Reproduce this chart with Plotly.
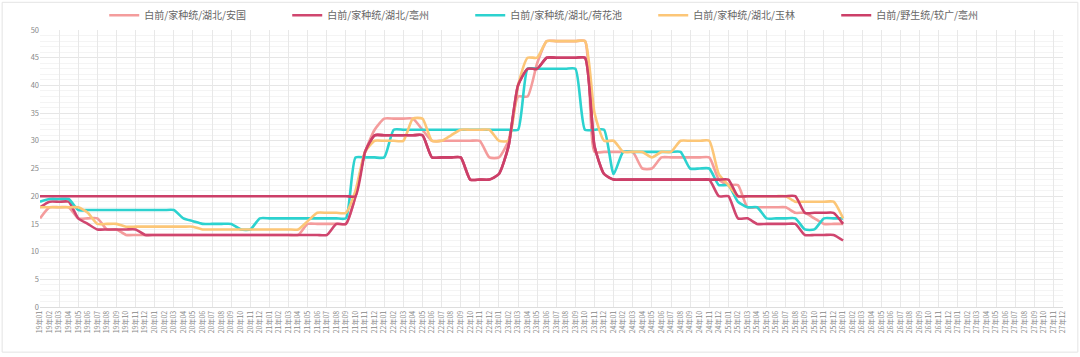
import plotly.graph_objects as go

categories = [f"{y}年{m:02d}" for y in range(19, 28) for m in range(1, 13)]

names = ["白前/家种统/湖北/安国", "白前/家种统/湖北/亳州", "白前/家种统/湖北/荷花池",
         "白前/家种统/湖北/玉林", "白前/野生统/较广/亳州"]

anguo = ([16] + [18]*3 + [16]*3 + [14]*2 + [13]*19 + [15]*5 + [20, 28, 32] + [34]*4 + [32]
         + [30]*6 + [27, 27, 30, 38, 38, 44] + [48]*5 + [28]*5 + [25, 25] + [27]*6
         + [23, 22, 22] + [18]*5 + [17, 17, 16] + [15]*3)
bozhou = ([18] + [19]*3 + [16, 15] + [14]*5 + [13]*20 + [15, 15, 20, 28] + [31]*6 + [27]*4
          + [23]*3 + [24, 29, 40, 43, 43] + [45]*5 + [29, 24] + [23]*11 + [20, 20, 16, 16]
          + [15]*5 + [13]*4 + [12])
hehuachi = ([19] + [19.5]*3 + [17.5]*11 + [16, 15.5] + [15]*4 + [14]*2 + [16]*10 + [27]*4
            + [32]*14 + [43]*6 + [32]*3 + [24] + [28]*7 + [25]*3 + [22]*2 + [19] + [18]*2
            + [16]*4 + [14]*2 + [16]*3)
yulin = ([18]*5 + [17] + [15]*3 + [14.5]*8 + [14]*11 + [15.5] + [17]*4 + [21, 28] + [30]*4
         + [34]*2 + [30]*2 + [31] + [32]*4 + [30]*2 + [40] + [45]*2 + [48]*5 + [35] + [30]*2
         + [28]*3 + [27] + [28]*2 + [30]*4 + [24, 22] + [20]*6 + [19]*5 + [16])
wild_bozhou = ([20]*34 + [28] + [31]*6 + [27]*4 + [23]*3 + [24, 29, 40, 43, 43] + [45]*5
               + [29, 24] + [23]*13 + [20]*7 + [17]*4 + [15])

series = [anguo, bozhou, hehuachi, yulin, wild_bozhou]
colors = ["#F49C9C", "#D0466F", "#2CD2CF", "#FCC677", "#CC3F68"]

fig = go.Figure()
for name, vals, col in zip(names, series, colors):
    fig.add_trace(go.Scatter(
        x=categories[:len(vals)], y=vals, name=name, mode="lines",
        line=dict(color=col, width=2.6, shape="spline", smoothing=0.55),
        hoverinfo="x+y+name",
    ))

# invisible trace on an overlay axis to carry vertical grid lines every 2 months
fig.add_trace(go.Scatter(x=[0, len(categories) - 1], y=[0, 0], xaxis="x2",
                         mode="lines", line=dict(width=0), showlegend=False,
                         hoverinfo="skip"))

fig.update_layout(
    width=1080, height=357,
    margin=dict(l=40, r=17, t=30, b=50, autoexpand=False),
    paper_bgcolor="white", plot_bgcolor="white",
    font=dict(family="Noto Sans CJK SC, Noto Sans, sans-serif", color="#888"),
    showlegend=True,
    legend=dict(orientation="h", x=0.510, xanchor="center", y=1.053, yanchor="middle",
                font=dict(size=10, color="#666"), entrywidth=138, entrywidthmode="pixels",
                itemwidth=30, bgcolor="rgba(0,0,0,0)"),
    xaxis=dict(type="category", categoryorder="array", categoryarray=categories,
               range=[0, len(categories) - 1], tickangle=-90, tickfont=dict(size=7, color="#888"),
               showgrid=False, showline=True, linecolor="#ddd", ticks="", zeroline=False),
    xaxis2=dict(overlaying="x", anchor="y", range=[0, len(categories) - 1], dtick=2, tick0=0,
                showgrid=True, gridcolor="#e8e8e8", gridwidth=1, showticklabels=False,
                zeroline=False, showline=False, ticks=""),
    yaxis=dict(range=[0, 50], dtick=5, tickfont=dict(size=7.5, color="#888"),
               showgrid=True, gridcolor="#e6e6e6", zeroline=False, ticks="",
               minor=dict(dtick=1, showgrid=True, gridcolor="#f4f4f4", gridwidth=1)),
    shapes=[dict(type="rect", xref="paper", yref="paper", x0=-0.037, x1=1.0145,
                 y0=-0.163, y1=1.1, line=dict(color="#e4e4e4", width=1), layer="below")],
)

fig.write_html("out.html", config={"displayModeBar": False},
               post_script="document.body.style.margin='0';")
